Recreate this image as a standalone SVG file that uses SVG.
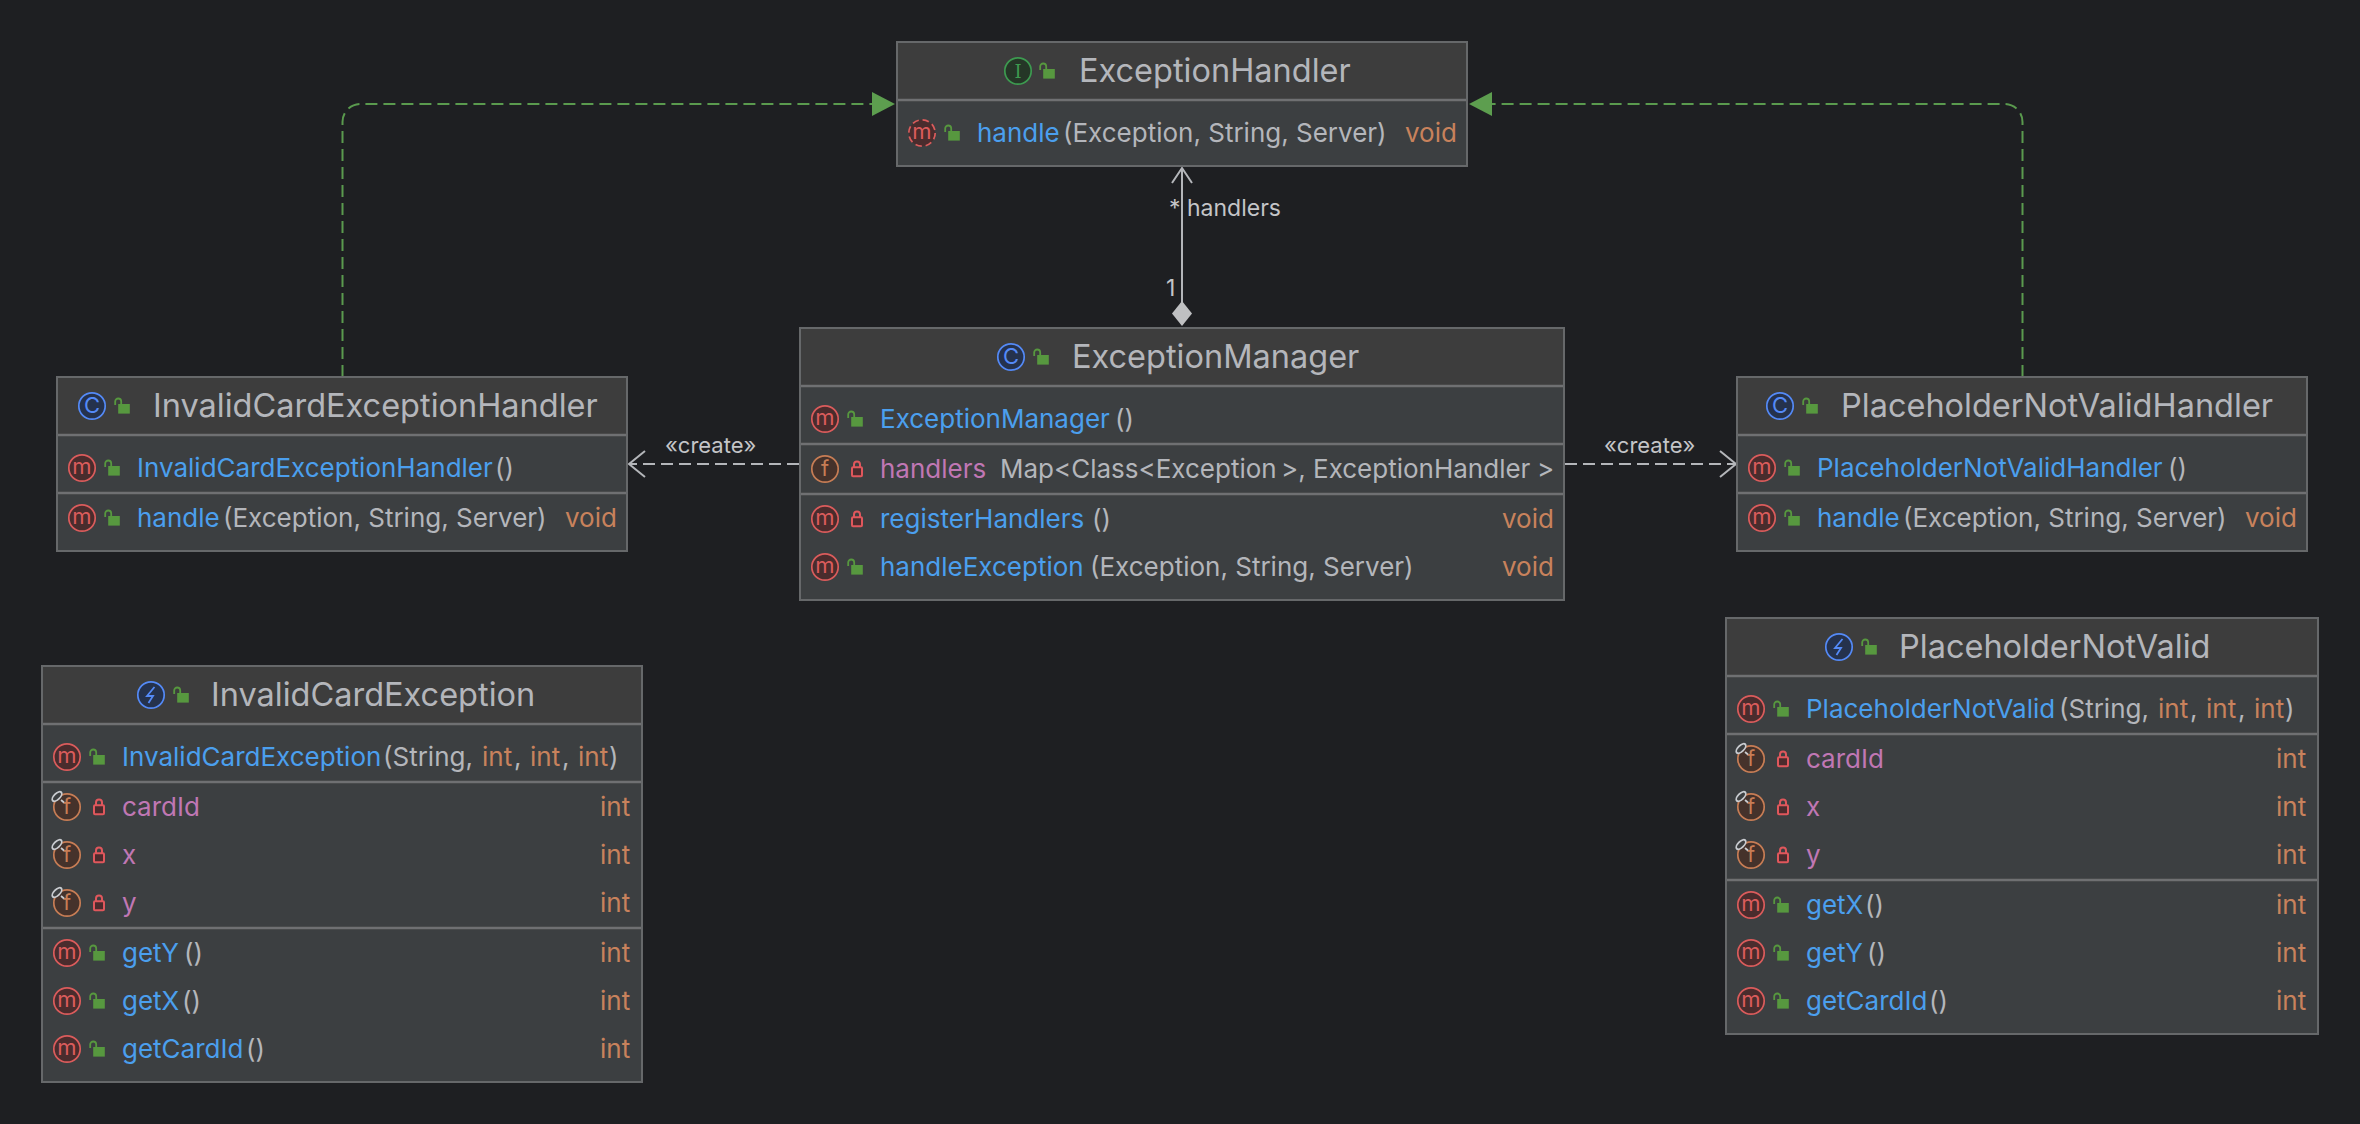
<svg xmlns="http://www.w3.org/2000/svg" width="2360" height="1124" viewBox="0 0 2360 1124">
<style>
text{font-family:Inter,"Noto Sans","Liberation Sans",sans-serif;font-size:26px}
.h{font-size:32.5px;fill:#b4b6bb}
.b{fill:#4b9fee}
.g{fill:#b4b6bb}
.o{fill:#c8825c}
.p{fill:#c077b4}
.l{font-size:22px;fill:#c4c5c8}
.lh{font-size:23px;fill:#c4c5c8}
.hd{fill:#3d3d3d}
.bd{fill:#3c3f41}
.fr{fill:none;stroke:#66686a;stroke-width:2}
.sp{stroke:#6f7072;stroke-width:2.4}
.c{fill:none;stroke:#b4b6ba;stroke-width:2}
.d{stroke-dasharray:12 6}
.gc{fill:none;stroke:#5a9a4e;stroke-width:2;stroke-dasharray:12 6}
.i{font-size:22px;text-anchor:middle}
</style>
<defs>
<g id="lo"><rect x="-3.800" y="-2" width="11.600" height="9.600" fill="#57983f"/><path d="M-6.800-1V-4.500a3 3 0 0 1 6 0V-2" fill="none" stroke="#57983f" stroke-width="1.800"/></g>
<g id="lc"><rect x="-5" y="-1.800" width="10" height="9" rx="1" fill="#4c2b2d" stroke="#e0575c" stroke-width="2"/><path d="M-3-2V-4.500a3 3 0 0 1 6 0V-2" fill="none" stroke="#e0575c" stroke-width="2"/></g>
<g id="m"><circle r="13.200" fill="#4a2c2d" stroke="#db5c5c" stroke-width="1.700"/><text class="i" y="6" fill="#db5c5c">m</text></g>
<g id="am"><circle r="13.200" fill="#4a2c2d" stroke="#db5c5c" stroke-width="1.700" stroke-dasharray="6.500 3.900"/><text class="i" y="6" fill="#db5c5c">m</text></g>
<g id="f"><circle r="13.200" fill="#45322b" stroke="#c77d55" stroke-width="1.700"/><text class="i" y="7" fill="#c77d55">f</text></g>
<g id="sf"><use href="#f"/><ellipse cx="-10" cy="-10.500" rx="6" ry="3" transform="rotate(-45 -10 -10.500)" fill="#3c3f41" stroke="#c9ccd0" stroke-width="1.800"/><path d="M-6-7l3 2.500" stroke="#c9ccd0" stroke-width="1.800"/></g>
<g id="cl"><circle r="13.200" fill="#25324d" stroke="#548af7" stroke-width="1.700"/><text class="i" y="7" fill="#548af7">C</text></g>
<g id="in"><circle r="13.200" fill="#253627" stroke="#3d9a50" stroke-width="1.700"/><text class="i" y="6.500" style="font-size:18px;font-family:'DejaVu Serif',serif" fill="#3d9a50">I</text></g>
<g id="ex"><circle r="13.200" fill="#25324d" stroke="#548af7" stroke-width="1.700"/><path d="M3.500-8L-4 1H2L-2.500 8" fill="none" stroke="#548af7" stroke-width="1.800"/></g>
</defs>
<rect width="2360" height="1124" fill="#1e1f22"/>

<g id="connectors">
<path class="gc" d="M342.500 377V122a18 18 0 0 1 18-18H874"/><path d="M872 92l23 12-23 12z" fill="#5d9e4f"/>
<path class="gc" d="M2022.500 377V122a18 18 0 0 0-18-18H1490"/><path d="M1492 92l-23 12 23 12z" fill="#5d9e4f"/>
<path class="c" d="M1182 302V168M1172 183l10-15 10 15"/>
<path d="M1182 301l10 12.500-10 12.500-10-12.500z" fill="#bfc0c2"/>
<path class="c d" d="M799 464H630"/><path class="c" d="M645 451l-16 13 16 13"/>
<path class="c d" d="M1565 464H1735"/><path class="c" d="M1720 451l16 13-16 13"/>
<text class="l" x="665" y="453">«create»</text>
<text class="l" x="1604" y="453">«create»</text>
<text class="lh" x="1169" y="216">*</text>
<text class="lh" x="1187" y="216">handlers</text>
<text class="lh" x="1166" y="296">1</text>
</g>

<g id="ExceptionHandler">
<rect class="hd" x="897" y="42" width="570" height="58"/><rect class="bd" x="897" y="100" width="570" height="66"/><rect class="fr" x="897" y="42" width="570" height="124"/><path class="sp" d="M898 100H1466"/>
<use href="#in" x="1018" y="71"/><use href="#lo" x="1047" y="71"/><text class="h" x="1079" y="82">ExceptionHandler</text>
<use href="#am" x="922" y="133"/><use href="#lo" x="952" y="133"/><text class="b" x="977" y="142">handle</text><text class="g" x="1063" y="142">(Exception, String, Server)</text><text class="o" x="1405" y="142">void</text>
</g>

<g id="ExceptionManager">
<rect class="hd" x="800" y="328" width="764" height="58"/><rect class="bd" x="800" y="386" width="764" height="214"/><rect class="fr" x="800" y="328" width="764" height="272"/><path class="sp" d="M801 386H1563M801 444H1563M801 494H1563"/>
<use href="#cl" x="1011" y="357"/><use href="#lo" x="1041" y="357"/><text class="h" x="1072" y="368">ExceptionManager</text>
<use href="#m" x="825" y="419"/><use href="#lo" x="855" y="419"/><text class="b" x="880" y="428">ExceptionManager</text><text class="g" x="1115" y="428">()</text>
<use href="#f" x="825" y="469"/><use href="#lc" x="857" y="469"/><text class="p" x="880" y="478">handlers</text><text class="g" x="1000" y="478">Map&lt;Class&lt;Exception</text><text class="g" x="1281" y="478">&gt;, ExceptionHandler</text><text class="g" x="1537" y="478">&gt;</text>
<use href="#m" x="825" y="519"/><use href="#lc" x="857" y="519"/><text class="b" x="880" y="528">registerHandlers</text><text class="g" x="1092" y="528">()</text><text class="o" x="1502" y="528">void</text>
<use href="#m" x="825" y="567"/><use href="#lo" x="855" y="567"/><text class="b" x="880" y="576">handleException</text><text class="g" x="1090" y="576">(Exception, String, Server)</text><text class="o" x="1502" y="576">void</text>
</g>

<g id="InvalidCardExceptionHandler">
<rect class="hd" x="57" y="377" width="570" height="58"/><rect class="bd" x="57" y="435" width="570" height="116"/><rect class="fr" x="57" y="377" width="570" height="174"/><path class="sp" d="M58 435H626M58 493H626"/>
<use href="#cl" x="92" y="406"/><use href="#lo" x="122" y="406"/><text class="h" x="153" y="417">InvalidCardExceptionHandler</text>
<use href="#m" x="82" y="468"/><use href="#lo" x="112" y="468"/><text class="b" x="137" y="477">InvalidCardExceptionHandler</text><text class="g" x="495" y="477">()</text>
<use href="#m" x="82" y="518"/><use href="#lo" x="112" y="518"/><text class="b" x="137" y="527">handle</text><text class="g" x="223" y="527">(Exception, String, Server)</text><text class="o" x="565" y="527">void</text>
</g>

<g id="PlaceholderNotValidHandler">
<rect class="hd" x="1737" y="377" width="570" height="58"/><rect class="bd" x="1737" y="435" width="570" height="116"/><rect class="fr" x="1737" y="377" width="570" height="174"/><path class="sp" d="M1738 435H2306M1738 493H2306"/>
<use href="#cl" x="1780" y="406"/><use href="#lo" x="1810" y="406"/><text class="h" x="1841" y="417">PlaceholderNotValidHandler</text>
<use href="#m" x="1762" y="468"/><use href="#lo" x="1792" y="468"/><text class="b" x="1817" y="477">PlaceholderNotValidHandler</text><text class="g" x="2168" y="477">()</text>
<use href="#m" x="1762" y="518"/><use href="#lo" x="1792" y="518"/><text class="b" x="1817" y="527">handle</text><text class="g" x="1903" y="527">(Exception, String, Server)</text><text class="o" x="2245" y="527">void</text>
</g>

<g id="InvalidCardException">
<rect class="hd" x="42" y="666" width="600" height="58"/><rect class="bd" x="42" y="724" width="600" height="358"/><rect class="fr" x="42" y="666" width="600" height="416"/><path class="sp" d="M43 724H641M43 782H641M43 928H641"/>
<use href="#ex" x="151" y="695"/><use href="#lo" x="181" y="695"/><text class="h" x="211" y="706">InvalidCardException</text>
<use href="#m" x="67" y="757"/><use href="#lo" x="97" y="757"/><text class="b" x="122" y="766">InvalidCardException</text><text class="g" x="383" y="766">(String,</text><text class="o" x="482" y="766">int</text><text class="g" x="514" y="766">,</text><text class="o" x="530" y="766">int</text><text class="g" x="562" y="766">,</text><text class="o" x="578" y="766">int</text><text class="g" x="609" y="766">)</text>
<use href="#sf" x="67" y="807"/><use href="#lc" x="99" y="807"/><text class="p" x="122" y="816">cardId</text><text class="o" x="600" y="816">int</text>
<use href="#sf" x="67" y="855"/><use href="#lc" x="99" y="855"/><text class="p" x="122" y="864">x</text><text class="o" x="600" y="864">int</text>
<use href="#sf" x="67" y="903"/><use href="#lc" x="99" y="903"/><text class="p" x="122" y="912">y</text><text class="o" x="600" y="912">int</text>
<use href="#m" x="67" y="953"/><use href="#lo" x="97" y="953"/><text class="b" x="122" y="962">getY</text><text class="g" x="184" y="962">()</text><text class="o" x="600" y="962">int</text>
<use href="#m" x="67" y="1001"/><use href="#lo" x="97" y="1001"/><text class="b" x="122" y="1010">getX</text><text class="g" x="182" y="1010">()</text><text class="o" x="600" y="1010">int</text>
<use href="#m" x="67" y="1049"/><use href="#lo" x="97" y="1049"/><text class="b" x="122" y="1058">getCardId</text><text class="g" x="246" y="1058">()</text><text class="o" x="600" y="1058">int</text>
</g>

<g id="PlaceholderNotValid">
<rect class="hd" x="1726" y="618" width="592" height="58"/><rect class="bd" x="1726" y="676" width="592" height="358"/><rect class="fr" x="1726" y="618" width="592" height="416"/><path class="sp" d="M1727 676H2317M1727 734H2317M1727 880H2317"/>
<use href="#ex" x="1839" y="647"/><use href="#lo" x="1869" y="647"/><text class="h" x="1899" y="658">PlaceholderNotValid</text>
<use href="#m" x="1751" y="709"/><use href="#lo" x="1781" y="709"/><text class="b" x="1806" y="718">PlaceholderNotValid</text><text class="g" x="2059" y="718">(String,</text><text class="o" x="2158" y="718">int</text><text class="g" x="2190" y="718">,</text><text class="o" x="2206" y="718">int</text><text class="g" x="2238" y="718">,</text><text class="o" x="2254" y="718">int</text><text class="g" x="2285" y="718">)</text>
<use href="#sf" x="1751" y="759"/><use href="#lc" x="1783" y="759"/><text class="p" x="1806" y="768">cardId</text><text class="o" x="2276" y="768">int</text>
<use href="#sf" x="1751" y="807"/><use href="#lc" x="1783" y="807"/><text class="p" x="1806" y="816">x</text><text class="o" x="2276" y="816">int</text>
<use href="#sf" x="1751" y="855"/><use href="#lc" x="1783" y="855"/><text class="p" x="1806" y="864">y</text><text class="o" x="2276" y="864">int</text>
<use href="#m" x="1751" y="905"/><use href="#lo" x="1781" y="905"/><text class="b" x="1806" y="914">getX</text><text class="g" x="1865" y="914">()</text><text class="o" x="2276" y="914">int</text>
<use href="#m" x="1751" y="953"/><use href="#lo" x="1781" y="953"/><text class="b" x="1806" y="962">getY</text><text class="g" x="1867" y="962">()</text><text class="o" x="2276" y="962">int</text>
<use href="#m" x="1751" y="1001"/><use href="#lo" x="1781" y="1001"/><text class="b" x="1806" y="1010">getCardId</text><text class="g" x="1929" y="1010">()</text><text class="o" x="2276" y="1010">int</text>
</g>
</svg>
